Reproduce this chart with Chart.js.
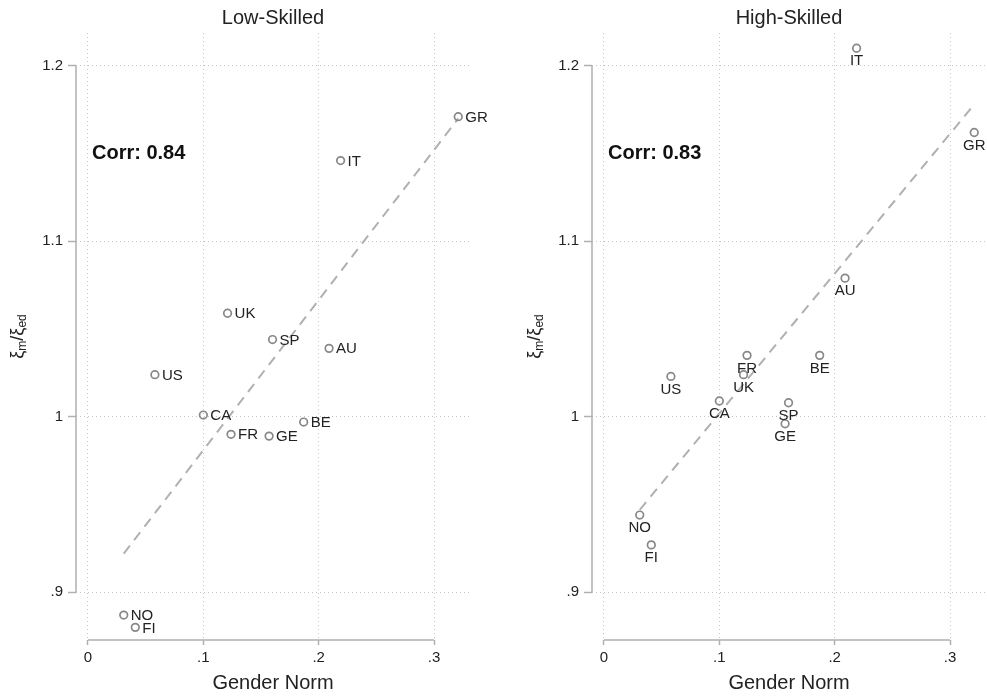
<!DOCTYPE html>
<html>
<head>
<meta charset="utf-8">
<script src="https://cdn.jsdelivr.net/npm/chart.js@4"></script>
<style>
  html, body { margin: 0; padding: 0; background: #fff; overflow: hidden; }
  #wrap { position: relative; width: 987px; height: 696px; }
  canvas { position: absolute; top: 0; }
  #low { left: 0; }
  #high { left: 493px; }
</style>
</head>
<body>
<div id="wrap">
  <canvas id="low" width="493" height="696"></canvas>
  <canvas id="high" width="494" height="696"></canvas>
</div>
<script>
// data
const countries = ['NO', 'FI', 'US', 'CA', 'UK', 'FR', 'GE', 'SP', 'BE', 'AU', 'IT', 'GR'];
const genderNorm = [0.031, 0.041, 0.058, 0.100, 0.121, 0.124, 0.157, 0.160, 0.187, 0.209, 0.219, 0.321];
const lowSkilled = [0.887, 0.880, 1.024, 1.001, 1.059, 0.990, 0.989, 1.044, 0.997, 1.039, 1.146, 1.171];
const highSkilled = [0.944, 0.927, 1.023, 1.009, 1.024, 1.035, 0.996, 1.008, 1.035, 1.079, 1.210, 1.162];
const fitX = [0.031, 0.321];
const lowFit = [0.922, 1.170];
const highFit = [0.947, 1.178];
const xTicks = [0, 0.1, 0.2, 0.3];
const xTickLabels = ['0', '.1', '.2', '.3'];
const yTicks = [0.9, 1.0, 1.1, 1.2];
const yTickLabels = ['.9', '1', '1.1', '1.2'];

const FONT = '"Liberation Sans", Arial, Helvetica, sans-serif';
Chart.defaults.font.family = FONT;

// axis lines only across the tick range, like Stata
const axisLines = {
  id: 'axisLines',
  beforeDatasetsDraw(chart) {
    const { ctx, chartArea } = chart;
    const xs = chart.scales.x, ys = chart.scales.y;
    ctx.save();
    ctx.strokeStyle = '#b0b0b0';
    ctx.lineWidth = 1.5;
    ctx.beginPath();
    ctx.moveTo(chartArea.left, ys.getPixelForValue(yTicks[0]));
    ctx.lineTo(chartArea.left, ys.getPixelForValue(yTicks[yTicks.length - 1]));
    ctx.moveTo(xs.getPixelForValue(xTicks[0]), chartArea.bottom);
    ctx.lineTo(xs.getPixelForValue(xTicks[xTicks.length - 1]), chartArea.bottom);
    ctx.stroke();
    ctx.restore();
  }
};

// country labels, correlation note and y title
const extras = {
  id: 'extras',
  afterDatasetsDraw(chart, args, opts) {
    const { ctx, chartArea } = chart;
    const meta = chart.getDatasetMeta(0);
    ctx.save();
    ctx.font = '15px ' + FONT;
    ctx.fillStyle = '#222';
    ctx.textBaseline = 'middle';
    meta.data.forEach((pt, i) => {
      if (opts.place === 'right') {
        ctx.textAlign = 'left';
        ctx.fillText(countries[i], pt.x + 7, pt.y + 1);
      } else {
        ctx.textAlign = 'center';
        ctx.fillText(countries[i], pt.x, pt.y + 13);
      }
    });

    ctx.font = 'bold 20px ' + FONT;
    ctx.fillStyle = '#111';
    ctx.textAlign = 'left';
    ctx.fillText(opts.corr, chartArea.left + 16, chart.scales.y.getPixelForValue(1.15));

    // rotated y title: ξm / ξed
    const parts = [
      ['ξ', 18, 0], ['m', 12, 5], ['/', 18, 0], ['ξ', 18, 0], ['ed', 12, 5]
    ];
    let w = 0;
    parts.forEach(p => { ctx.font = p[1] + 'px ' + FONT; w += ctx.measureText(p[0]).width; });
    ctx.translate(opts.titleX, (chartArea.top + chartArea.bottom) / 2);
    ctx.rotate(-Math.PI / 2);
    ctx.fillStyle = '#222';
    let cx = -w / 2;
    parts.forEach(p => {
      ctx.font = p[1] + 'px ' + FONT;
      ctx.fillText(p[0], cx, p[2]);
      cx += ctx.measureText(p[0]).width;
    });
    ctx.restore();
  }
};

function makeChart(id, title, values, fit, corr, place, yWidth, padRight, titleX) {
  new Chart(document.getElementById(id), {
    type: 'scatter',
    data: {
      datasets: [
        {
          data: genderNorm.map((g, i) => ({ x: g, y: values[i] })),
          pointStyle: 'circle',
          pointRadius: 3.8,
          pointBorderWidth: 1.7,
          pointBorderColor: '#888888',
          pointBackgroundColor: 'rgba(255,255,255,0)',
          clip: false,
          order: 1
        },
        {
          data: fitX.map((g, i) => ({ x: g, y: fit[i] })),
          showLine: true,
          borderColor: '#b0b0b0',
          borderWidth: 2,
          borderDash: [10, 7],
          pointRadius: 0,
          order: 2
        }
      ]
    },
    options: {
      responsive: false,
      animation: false,
      devicePixelRatio: 1,
      layout: { autoPadding: false, padding: { left: 0, right: padRight, top: 0, bottom: 0 } },
      plugins: {
        legend: { display: false },
        tooltip: { enabled: false },
        title: {
          display: true,
          text: title,
          fullSize: false,
          color: '#222',
          font: { size: 20, weight: 'normal' },
          padding: { top: 6, bottom: 3 }
        },
        extras: { corr: corr, place: place, titleX: titleX }
      },
      scales: {
        x: {
          type: 'linear',
          min: -0.0104,
          max: 0.3312,
          afterBuildTicks: s => { s.ticks = xTicks.map(v => ({ value: v })); },
          afterFit: s => { s.height = 56; s.paddingLeft = 0; s.paddingRight = 0; },
          border: { display: false, dash: [1, 3] },
          grid: { color: '#c4c4c4', lineWidth: 1, tickLength: 5, tickColor: '#b0b0b0', tickWidth: 1.5, tickBorderDash: [] },
          ticks: {
            autoSkip: false, maxRotation: 0, padding: 4, color: '#222',
            font: { size: 15 },
            callback: (v, i) => xTickLabels[i]
          },
          title: {
            display: true, text: 'Gender Norm', color: '#222',
            font: { size: 20 }, padding: { top: 0, bottom: 1 }
          }
        },
        y: {
          type: 'linear',
          min: 0.8728,
          max: 1.2187,
          afterBuildTicks: s => { s.ticks = yTicks.map(v => ({ value: v })); },
          afterFit: s => { s.width = yWidth; s.paddingTop = 0; s.paddingBottom = 0; },
          border: { display: false, dash: [1, 3] },
          grid: { color: '#c4c4c4', lineWidth: 1, tickLength: 8, tickColor: '#b0b0b0', tickWidth: 1.5, tickBorderDash: [] },
          ticks: {
            autoSkip: false, padding: 5, color: '#222',
            font: { size: 15 },
            callback: (v, i) => yTickLabels[i]
          }
        }
      }
    },
    plugins: [axisLines, extras]
  });
}

makeChart('low', 'Low-Skilled', lowSkilled, lowFit, 'Corr: 0.84', 'right', 76, 23, 18);
makeChart('high', 'High-Skilled', highSkilled, highFit, 'Corr: 0.83', 'below', 99, 1, 42);
</script>
</body>
</html>
